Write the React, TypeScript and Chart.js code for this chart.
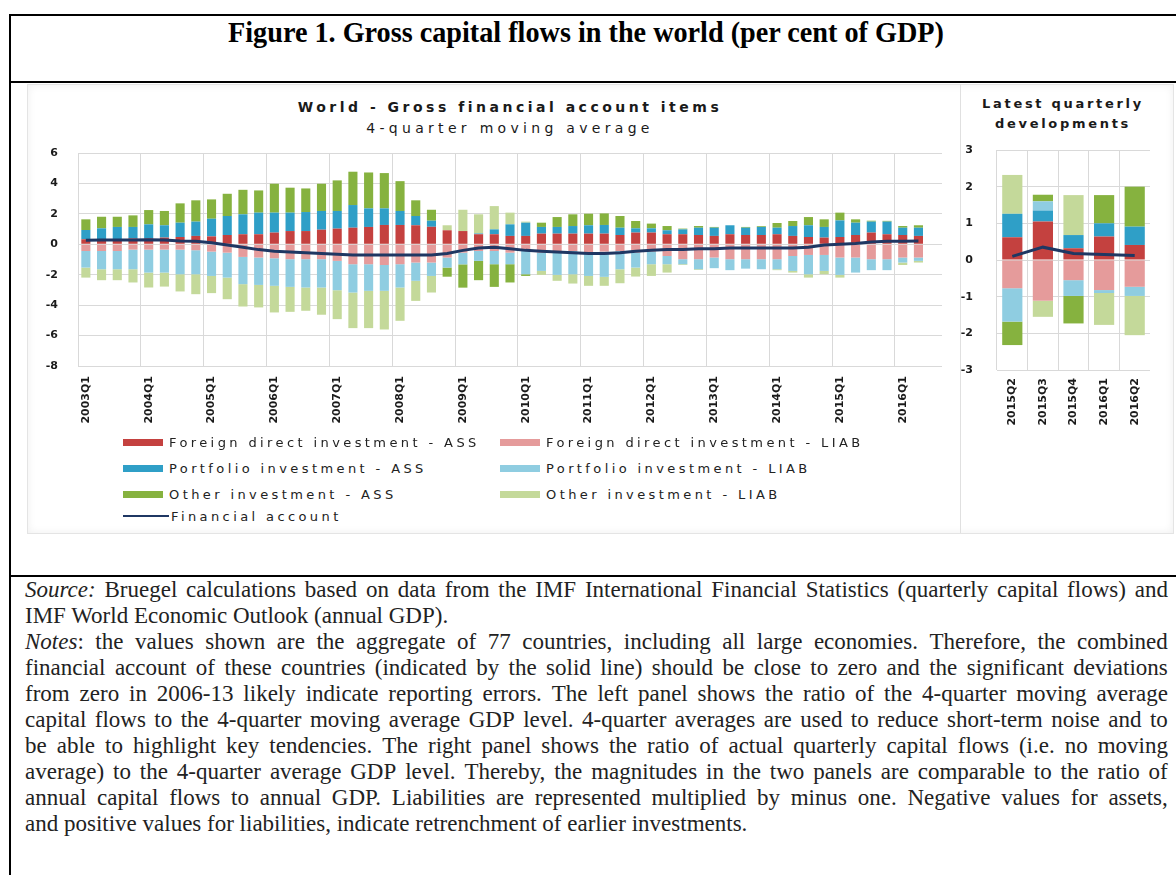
import React, { useEffect, useRef } from 'react';
import { Chart, registerables } from 'chart.js';

Chart.register(...registerables);
Chart.defaults.font.family = '"DejaVu Sans", sans-serif';

// ---------- Left panel: 4-quarter moving average ----------
const quarterLabels = [
  '2003Q1', '2003Q2', '2003Q3', '2003Q4', '2004Q1', '2004Q2', '2004Q3', '2004Q4',
  '2005Q1', '2005Q2', '2005Q3', '2005Q4', '2006Q1', '2006Q2', '2006Q3', '2006Q4',
  '2007Q1', '2007Q2', '2007Q3', '2007Q4', '2008Q1', '2008Q2', '2008Q3', '2008Q4',
  '2009Q1', '2009Q2', '2009Q3', '2009Q4', '2010Q1', '2010Q2', '2010Q3', '2010Q4',
  '2011Q1', '2011Q2', '2011Q3', '2011Q4', '2012Q1', '2012Q2', '2012Q3', '2012Q4',
  '2013Q1', '2013Q2', '2013Q3', '2013Q4', '2014Q1', '2014Q2', '2014Q3', '2014Q4',
  '2015Q1', '2015Q2', '2015Q3', '2015Q4', '2016Q1', '2016Q2',
];

const fdiAssets = [
  0.33, 0.33, 0.33, 0.39, 0.39, 0.44, 0.48, 0.55, 0.52, 0.61,
  0.66, 0.66, 0.77, 0.87, 0.87, 0.96, 1.03, 1.09, 1.14, 1.27,
  1.27, 1.25, 1.15, 0.92, 0.87, 0.66, 0.66, 0.55, 0.55, 0.70,
  0.70, 0.70, 0.70, 0.70, 0.61, 0.77, 0.77, 0.66, 0.66, 0.61,
  0.55, 0.66, 0.61, 0.61, 0.66, 0.55, 0.48, 0.44, 0.48, 0.61,
  0.77, 0.66, 0.61, 0.55,
];
const fdiLiabilities = [
  -0.44, -0.44, -0.44, -0.35, -0.35, -0.35, -0.35, -0.39, -0.48, -0.55,
  -0.83, -0.87, -0.92, -0.98, -0.98, -0.98, -1.09, -1.31, -1.31, -1.36,
  -1.31, -1.20, -1.20, -0.87, -0.55, -0.44, -0.44, -0.55, -0.44, -0.55,
  -0.48, -0.44, -0.55, -0.48, -0.44, -0.55, -0.48, -0.77, -0.98, -0.98,
  -0.87, -0.98, -0.98, -0.98, -0.98, -0.77, -0.70, -0.70, -0.87, -0.87,
  -0.98, -0.98, -0.87, -0.87,
];
const portfolioAssets = [
  0.61, 0.72, 0.81, 0.75, 0.92, 0.81, 0.94, 0.94, 1.16, 1.25,
  1.31, 1.42, 1.31, 1.21, 1.25, 1.23, 1.16, 1.49, 1.22, 1.09,
  0.92, 0.61, 0.40, 0.00, 0.00, 0.05, 0.32, 0.76, 0.87, 0.44,
  0.44, 0.50, 0.55, 0.57, 0.48, 0.28, 0.28, 0.26, 0.32, 0.48,
  0.54, 0.59, 0.48, 0.53, 0.43, 0.65, 0.77, 0.70, 1.09, 0.81,
  0.72, 0.83, 0.48, 0.54,
];
const portfolioLiabilities = [
  -1.09, -1.20, -1.20, -1.29, -1.51, -1.51, -1.62, -1.58, -1.60, -1.64,
  -1.79, -1.80, -1.81, -1.82, -1.86, -1.86, -1.93, -1.86, -1.75, -1.70,
  -1.53, -1.20, -0.88, -0.66, -0.77, -0.65, -0.87, -0.76, -1.53, -1.20,
  -1.53, -1.53, -1.53, -1.66, -1.20, -0.98, -0.83, -0.54, -0.33, -0.66,
  -0.70, -0.72, -0.62, -0.66, -0.66, -0.98, -1.27, -1.05, -1.14, -0.99,
  -0.72, -0.72, -0.33, -0.22,
];
const otherAssets = [
  0.70, 0.76, 0.67, 0.76, 0.94, 0.94, 1.27, 1.40, 1.27, 1.46,
  1.61, 1.46, 1.90, 1.64, 1.55, 1.79, 2.01, 2.19, 2.36, 2.32,
  1.96, 1.03, 0.72, -0.60, -1.53, -1.27, -1.49, -1.20, -0.11, 0.28,
  0.65, 0.77, 0.76, 0.76, 0.77, 0.48, 0.31, 0.28, 0.05, 0.11,
  0.05, 0.00, 0.05, 0.05, 0.31, 0.33, 0.54, 0.50, 0.51, 0.22,
  0.06, 0.05, 0.11, 0.16,
];
const otherLiabilities = [
  -0.66, -0.72, -0.72, -0.87, -0.98, -0.92, -1.13, -1.31, -1.13, -1.42,
  -1.47, -1.48, -1.75, -1.64, -1.53, -1.79, -1.90, -2.34, -2.45, -2.54,
  -2.19, -1.32, -1.09, 0.33, 1.40, 1.26, 1.53, 0.77, 0.07, -0.26,
  -0.39, -0.61, -0.65, -0.59, -0.92, -0.59, -0.77, -0.55, -0.05, -0.05,
  0.00, 0.00, 0.00, 0.00, -0.06, -0.11, -0.22, -0.22, -0.18, 0.00,
  0.00, 0.00, -0.16, -0.11,
];
const financialAccount = [
  0.26, 0.28, 0.28, 0.28, 0.30, 0.28, 0.22, 0.20, 0.10, -0.05,
  -0.20, -0.35, -0.45, -0.50, -0.55, -0.60, -0.65, -0.70, -0.70, -0.70,
  -0.70, -0.70, -0.70, -0.60, -0.40, -0.25, -0.20, -0.30, -0.40, -0.45,
  -0.50, -0.55, -0.60, -0.60, -0.55, -0.45, -0.40, -0.35, -0.35, -0.30,
  -0.30, -0.25, -0.25, -0.25, -0.25, -0.25, -0.20, -0.05, 0.00, 0.05,
  0.15, 0.20, 0.20, 0.22,
];

// ---------- Right panel: latest quarters (no moving average) ----------
const latestLabels = ['2015Q2', '2015Q3', '2015Q4', '2016Q1', '2016Q2'];
const latestFdiAssets = [0.62, 1.05, 0.32, 0.64, 0.41];
const latestFdiLiabilities = [-0.77, -1.11, -0.55, -0.82, -0.73];
const latestPortfolioAssets = [0.64, 0.30, 0.36, 0.36, 0.50];
const latestPortfolioLiabilities = [-0.91, 0.25, -0.43, -0.08, -0.25];
const latestOtherAssets = [-0.64, 0.18, -0.75, 0.77, 1.09];
const latestOtherLiabilities = [1.06, -0.44, 1.09, -0.87, -1.07];
const latestFinancialAccount = [0.10, 0.35, 0.18, 0.15, 0.12];

// ---------- Series names / colours / axes ----------
const seriesNames = [
  'Foreign direct investment - ASS',
  'Foreign direct investment - LIAB',
  'Portfolio investment - ASS',
  'Portfolio investment - LIAB',
  'Other investment - ASS',
  'Other investment - LIAB',
];
const seriesColors = ['#C4413F', '#E59B9B', '#2F9FC7', '#8FCDE1', '#86B23F', '#C4D99A'];
const lineName = 'Financial account';
const lineColor = '#1F3763';

const leftAxis = { min: -8, max: 6, step: 2 };
const rightAxis = { min: -3, max: 3, step: 1 };

const gridColor = '#d9d9d9';
const tickFont = { family: '"DejaVu Sans", sans-serif', size: 11, weight: 'bold' as const };

function buildDatasets(series: number[][], line: number[], barPct: number) {
  const bars = series.map((data, i) => ({
    type: 'bar' as const,
    label: seriesNames[i],
    data,
    backgroundColor: seriesColors[i],
    borderWidth: 0,
    stack: 'flows',
    order: 2,
    barPercentage: barPct,
    categoryPercentage: 1,
  }));
  return [
    {
      type: 'line' as const,
      label: lineName,
      data: line,
      borderColor: lineColor,
      backgroundColor: lineColor,
      borderWidth: 3,
      pointRadius: 0,
      tension: 0,
      stack: 'line',
      order: 0,
    },
    ...bars,
  ];
}

function PanelChart(props: {
  labels: string[];
  series: number[][];
  line: number[];
  axis: { min: number; max: number; step: number };
  width: number;
  height: number;
  padding: { left: number; right: number; top: number; bottom: number };
  yWidth: number;
  xHeight: number;
  yPad: number;
  xPad: number;
  barPct: number;
  gridEvery: number;
}) {
  const ref = useRef<HTMLCanvasElement>(null);
  useEffect(() => {
    if (!ref.current) return;
    const p = props;
    const chart = new Chart(ref.current, {
      type: 'bar',
      data: { labels: p.labels, datasets: buildDatasets(p.series, p.line, p.barPct) as any },
      options: {
        responsive: false,
        animation: false,
        maintainAspectRatio: false,
        layout: { padding: p.padding },
        plugins: { legend: { display: false }, tooltip: { enabled: false }, title: { display: false } },
        scales: {
          x: {
            stacked: true,
            offset: true,
            border: { display: false },
            grid: {
              offset: true,
              drawTicks: false,
              color: (c: any) => (c.index % p.gridEvery === 0 ? gridColor : 'rgba(0,0,0,0)'),
            },
            ticks: {
              autoSkip: false,
              maxRotation: 90,
              minRotation: 90,
              padding: p.xPad,
              color: '#1a1a1a',
              font: tickFont,
              callback: function (this: any, value: any, index: number) {
                return index % p.gridEvery === 0 ? this.getLabelForValue(value) : '';
              },
            },
            afterFit: (s: any) => {
              s.height = p.xHeight;
              s.paddingLeft = 0;
              s.paddingRight = 0;
            },
          },
          y: {
            stacked: true,
            min: p.axis.min,
            max: p.axis.max,
            border: { display: false },
            grid: { color: gridColor, drawTicks: false },
            ticks: { stepSize: p.axis.step, padding: p.yPad, color: '#1a1a1a', font: tickFont },
            afterFit: (s: any) => {
              s.width = p.yWidth;
              s.paddingTop = 0;
              s.paddingBottom = 0;
            },
          },
        },
      },
    });
    return () => chart.destroy();
  }, []);
  return <canvas ref={ref} width={props.width} height={props.height} style={{ display: 'block' }} />;
}

const noteLines: { parts: { t: string; i?: boolean }[]; justify: boolean }[] = [
  { parts: [{ t: 'Source:', i: true }, { t: ' Bruegel calculations based on data from the IMF International Financial Statistics (quarterly capital flows) and' }], justify: true },
  { parts: [{ t: 'IMF World Economic Outlook (annual GDP).' }], justify: false },
  { parts: [{ t: 'Notes', i: true }, { t: ': the values shown are the aggregate of 77 countries, including all large economies. Therefore, the combined' }], justify: true },
  { parts: [{ t: 'financial account of these countries (indicated by the solid line) should be close to zero and the significant deviations' }], justify: true },
  { parts: [{ t: 'from zero in 2006-13 likely indicate reporting errors. The left panel shows the ratio of the 4-quarter moving average' }], justify: true },
  { parts: [{ t: 'capital flows to the 4-quarter moving average GDP level. 4-quarter averages are used to reduce short-term noise and to' }], justify: true },
  { parts: [{ t: 'be able to highlight key tendencies. The right panel shows the ratio of actual quarterly capital flows (i.e. no moving' }], justify: true },
  { parts: [{ t: 'average) to the 4-quarter average GDP level. Thereby, the magnitudes in the two panels are comparable to the ratio of' }], justify: true },
  { parts: [{ t: 'annual capital flows to annual GDP. Liabilities are represented multiplied by minus one. Negative values for assets,' }], justify: true },
  { parts: [{ t: 'and positive values for liabilities, indicate retrenchment of earlier investments.' }], justify: false },
];

function JustifiedLine(props: { parts: { t: string; i?: boolean }[]; justify: boolean }) {
  if (!props.justify) {
    return (
      <div style={{ whiteSpace: 'nowrap' }}>
        {props.parts.map((p, k) => (p.i ? <i key={k}>{p.t}</i> : <span key={k}>{p.t}</span>))}
      </div>
    );
  }
  const words: { t: string; i?: boolean }[][] = [];
  let cur: { t: string; i?: boolean }[] = [];
  props.parts.forEach((p) => {
    const tokens = p.t.split(/(\s+)/);
    tokens.forEach((tok) => {
      if (tok === '') return;
      if (/^\s+$/.test(tok)) {
        if (cur.length) words.push(cur);
        cur = [];
      } else {
        cur.push({ t: tok, i: p.i });
      }
    });
  });
  if (cur.length) words.push(cur);
  return (
    <div style={{ display: 'flex', justifyContent: 'space-between', whiteSpace: 'nowrap' }}>
      {words.map((w, k) => (
        <span key={k}>{w.map((seg, j) => (seg.i ? <i key={j}>{seg.t}</i> : <span key={j}>{seg.t}</span>))}</span>
      ))}
    </div>
  );
}

const legendRows: { name: string; color: string; line?: boolean }[][] = [
  [{ name: seriesNames[0], color: seriesColors[0] }, { name: seriesNames[1], color: seriesColors[1] }],
  [{ name: seriesNames[2], color: seriesColors[2] }, { name: seriesNames[3], color: seriesColors[3] }],
  [{ name: seriesNames[4], color: seriesColors[4] }, { name: seriesNames[5], color: seriesColors[5] }],
  [{ name: lineName, color: lineColor, line: true }],
];

export default function App() {
  const chartFont = '"DejaVu Sans", sans-serif';
  const legendRowY = [442, 468, 494, 516];
  const legendColX = [123, 500];
  return (
    <div
      style={{
        position: 'absolute',
        left: 0,
        top: 0,
        width: 1176,
        height: 875,
        overflow: 'hidden',
        background: '#ffffff',
      }}
    >
      {/* outer box */}
      <div style={{ position: 'absolute', left: 9, top: 14, width: 1200, height: 900, borderLeft: '2px solid #000', borderTop: '2px solid #000' }} />
      <div style={{ position: 'absolute', left: 9, top: 81, width: 1200, height: 2, background: '#000' }} />
      <div style={{ position: 'absolute', left: 9, top: 575, width: 1200, height: 2, background: '#000' }} />

      {/* figure title */}
      <div
        style={{
          position: 'absolute',
          left: 0,
          top: 15,
          width: 1172,
          textAlign: 'center',
          fontFamily: '"Liberation Serif", "Times New Roman", serif',
          fontWeight: 'bold',
          fontSize: 30,
          lineHeight: '34px',
          color: '#000',
          transform: 'scaleX(0.94)',
          transformOrigin: '586px 0',
          whiteSpace: 'nowrap',
        }}
      >
        Figure 1. Gross capital flows in the world (per cent of GDP)
      </div>

      {/* chart image frame */}
      <div style={{ position: 'absolute', left: 27, top: 84, width: 1145, height: 448, border: '1px solid #e4e4e4', boxShadow: 'inset 0 0 8px #eeeeee' }} />
      <div style={{ position: 'absolute', left: 960, top: 84, width: 1, height: 449, background: '#e0e0e0' }} />

      {/* left panel titles */}
      <div
        style={{
          position: 'absolute',
          left: 78,
          width: 864,
          top: 98,
          textAlign: 'center',
          fontFamily: chartFont,
          fontWeight: 'bold',
          fontSize: 14,
          letterSpacing: '3.5px',
          lineHeight: '18px',
          color: '#1a1a1a',
          whiteSpace: 'nowrap',
        }}
      >
        World - Gross financial account items
      </div>
      <div
        style={{
          position: 'absolute',
          left: 78,
          width: 864,
          top: 119,
          textAlign: 'center',
          fontFamily: chartFont,
          fontSize: 14,
          letterSpacing: '4.3px',
          lineHeight: '18px',
          color: '#1a1a1a',
          whiteSpace: 'nowrap',
        }}
      >
        4-quarter moving average
      </div>

      {/* right panel titles */}
      <div
        style={{
          position: 'absolute',
          left: 963,
          width: 200,
          top: 94,
          textAlign: 'center',
          fontFamily: chartFont,
          fontWeight: 'bold',
          fontSize: 13,
          letterSpacing: '2.7px',
          lineHeight: '20px',
          color: '#1a1a1a',
          whiteSpace: 'nowrap',
        }}
      >
        Latest quarterly
        <br />
        developments
      </div>

      {/* left chart */}
      <div style={{ position: 'absolute', left: 27, top: 140 }}>
        <PanelChart
          labels={[...quarterLabels, '']}
          series={[fdiAssets, fdiLiabilities, portfolioAssets, portfolioLiabilities, otherAssets, otherLiabilities]}
          line={financialAccount}
          axis={leftAxis}
          width={933}
          height={300}
          padding={{ left: 10, right: 18, top: 13, bottom: 0 }}
          yWidth={41}
          xHeight={74}
          yPad={20}
          xPad={10}
          barPct={0.58}
          gridEvery={4}
        />
      </div>

      {/* right chart */}
      <div style={{ position: 'absolute', left: 945, top: 140 }}>
        <PanelChart
          labels={latestLabels}
          series={[
            latestFdiAssets,
            latestFdiLiabilities,
            latestPortfolioAssets,
            latestPortfolioLiabilities,
            latestOtherAssets,
            latestOtherLiabilities,
          ]}
          line={latestFinancialAccount}
          axis={rightAxis}
          width={227}
          height={300}
          padding={{ left: 10, right: 22, top: 10, bottom: 0 }}
          yWidth={42}
          xHeight={70}
          yPad={24}
          xPad={8}
          barPct={0.66}
          gridEvery={1}
        />
      </div>

      {/* legend */}
      {legendRows.map((row, r) =>
        row.map((item, c) => (
          <div
            key={`${r}-${c}`}
            style={{
              position: 'absolute',
              left: legendColX[c],
              top: legendRowY[r] - 10,
              height: 20,
              display: 'flex',
              alignItems: 'center',
              fontFamily: chartFont,
              fontSize: 13,
              letterSpacing: '3.4px',
              color: '#222',
              whiteSpace: 'nowrap',
            }}
          >
            {item.line ? (
              <span style={{ display: 'inline-block', width: 46, height: 2, background: item.color, marginRight: 2 }} />
            ) : (
              <span style={{ display: 'inline-block', width: 40, height: 7, background: item.color, marginRight: 6 }} />
            )}
            <span>{item.name}</span>
          </div>
        ))
      )}

      {/* source and notes */}
      <div
        style={{
          position: 'absolute',
          left: 25,
          top: 577,
          width: 1143,
          fontFamily: '"Liberation Serif", "Times New Roman", serif',
          fontSize: 23,
          lineHeight: '26px',
          color: '#222',
        }}
      >
        {noteLines.map((l, k) => (
          <JustifiedLine key={k} parts={l.parts} justify={l.justify} />
        ))}
      </div>
    </div>
  );
}
